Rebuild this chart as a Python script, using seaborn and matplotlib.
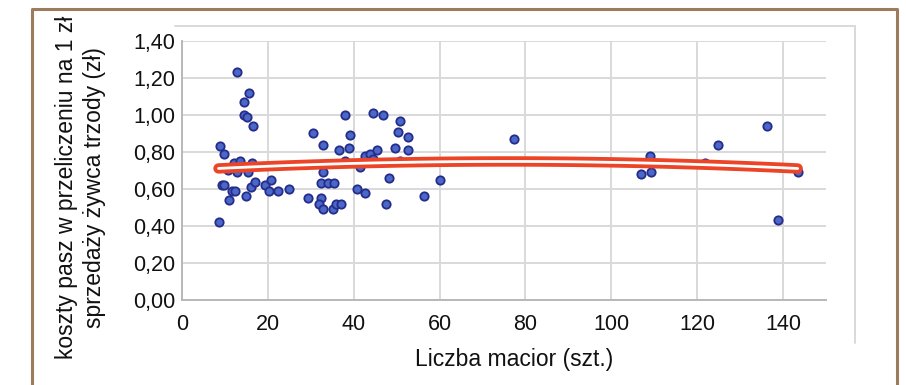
import matplotlib
matplotlib.use('Agg')
import matplotlib.pyplot as plt
import matplotlib.patheffects as pe
from matplotlib.lines import Line2D
import numpy as np
import seaborn as sns
import pandas as pd

# liczba macior (szt.)
sows = [8.5, 8.9, 9.8, 9.3, 9.8, 10.7, 11.0, 11.7, 12.3, 12.0,
        12.7, 13.5, 12.8, 14.4, 15.6, 14.4, 15.1, 16.6, 16.2, 15.3,
        14.8, 16.1, 17.0, 19.4, 20.7, 20.3, 22.4, 24.9, 29.4, 30.6,
        32.8, 32.8, 32.3, 34.0, 35.3, 32.3, 32.0, 32.8, 35.2, 35.8,
        37.1, 36.6, 38.0, 38.0, 39.1, 38.9, 41.5, 40.7, 42.6, 42.6,
        43.8, 45.4, 44.5, 44.6, 46.8, 48.1, 47.5, 49.6, 50.8, 50.4,
        50.8, 52.7, 52.7, 56.4, 60.1, 77.3, 106.8, 108.9, 109.2, 121.8,
        124.8, 136.2, 138.8, 143.4]
# koszty pasz na 1 zl sprzedazy (zl)
costs = [0.42, 0.83, 0.79, 0.62, 0.62, 0.70, 0.54, 0.59, 0.59, 0.74,
         1.23, 0.75, 0.69, 1.07, 1.12, 1.00, 0.99, 0.94, 0.74, 0.69,
         0.56, 0.61, 0.64, 0.62, 0.65, 0.59, 0.59, 0.60, 0.55, 0.90,
         0.84, 0.69, 0.63, 0.63, 0.63, 0.55, 0.52, 0.49, 0.49, 0.52,
         0.52, 0.81, 0.75, 1.00, 0.89, 0.82, 0.72, 0.60, 0.58, 0.78,
         0.79, 0.81, 0.76, 1.01, 1.00, 0.66, 0.52, 0.82, 0.97, 0.91,
         0.75, 0.88, 0.81, 0.56, 0.65, 0.87, 0.68, 0.78, 0.69, 0.74,
         0.84, 0.94, 0.43, 0.69]

x_ticks = [0, 20, 40, 60, 80, 100, 120, 140]
y_ticks = [0.0, 0.2, 0.4, 0.6, 0.8, 1.0, 1.2, 1.4]
y_labels = ['0,00', '0,20', '0,40', '0,60', '0,80', '1,00', '1,20', '1,40']

df = pd.DataFrame({'sows': sows, 'cost': costs})

sns.set_style('white')
plt.rcParams['font.family'] = ['Liberation Sans', 'DejaVu Sans']

fig = plt.figure(figsize=(9.06, 3.85), dpi=100)
ax = fig.add_axes([0.2009, 0.2208, 0.7108, 0.6727])

grid_c = '#d9d9d9'
for v in y_ticks:
    ax.axhline(v, color=grid_c, lw=1.4, zorder=0)
for v in x_ticks:
    ax.axvline(v, color=grid_c, lw=1.4, zorder=0)

sns.scatterplot(data=df, x='sows', y='cost', ax=ax, s=36,
                color='#4a68c8', edgecolor='#262c8a', linewidth=1.3, zorder=3)

# trend line (2nd order), red outline with white core
sns.regplot(data=df, x='sows', y='cost', ax=ax, order=2, ci=None,
            scatter=False,
            line_kws=dict(color='white', lw=2.0, zorder=4, solid_capstyle='round',
                          path_effects=[pe.Stroke(linewidth=7.5, foreground='#ec4426'),
                                        pe.Normal()]))

ax.set_xlim(0, 150)
ax.set_ylim(0, 1.4)
ax.set_xticks(x_ticks)
ax.set_yticks(y_ticks)
ax.set_yticklabels(y_labels)
for lab in ax.get_xticklabels() + ax.get_yticklabels():
    lab.set_fontsize(15.5)
ax.tick_params(axis='both', length=0, colors='#111111')
ax.tick_params(axis='x', pad=10)
ax.tick_params(axis='y', pad=5)

for side in ['top', 'right']:
    ax.spines[side].set_visible(False)
for side in ['left', 'bottom']:
    ax.spines[side].set_color('#b8b8b8')
    ax.spines[side].set_linewidth(1.4)

ax.set_xlabel('Liczba macior (szt.)', fontsize=16.5, color='#111111')
ax.xaxis.set_label_coords(0.5155, -0.185)
ax.set_ylabel('koszty pasz w przeliczeniu na 1 zł\nsprzedaży żywca trzody (zł)',
              fontsize=16.5, color='#111111', linespacing=1.3)
ax.yaxis.set_label_coords(-0.118, 0.436)

# outer chart-area lines (light grey)
fig.add_artist(Line2D([175 / 906, 855 / 906], [1 - 26 / 385, 1 - 26 / 385],
                      color=grid_c, lw=1.4, transform=fig.transFigure))
fig.add_artist(Line2D([855 / 906, 855 / 906], [1 - 26 / 385, 1 - 343 / 385],
                      color=grid_c, lw=1.4, transform=fig.transFigure))

# tan frame
frame_c = '#9b7c5c'
fig.add_artist(Line2D([32 / 906, 32 / 906, 897 / 906, 897 / 906],
                      [-0.05, 1 - 9 / 385, 1 - 9 / 385, -0.05],
                      color=frame_c, lw=2.2, transform=fig.transFigure))

fig.savefig('out.png', dpi=100)
